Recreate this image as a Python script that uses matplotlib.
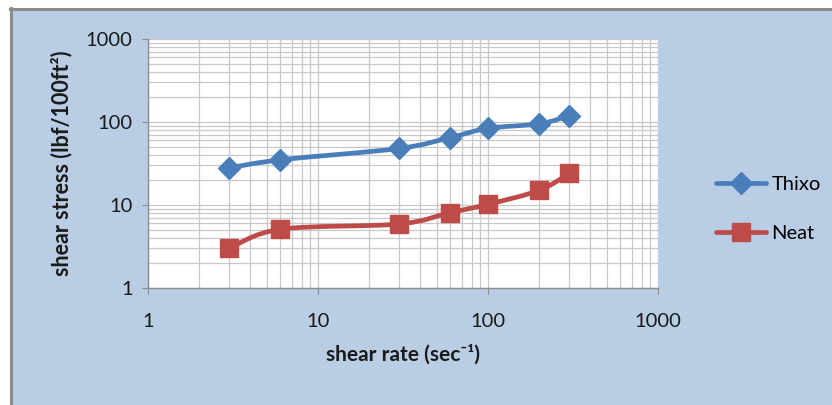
import numpy as np
import matplotlib
matplotlib.use("Agg")
import matplotlib.pyplot as plt
from matplotlib.path import Path
from matplotlib.patches import PathPatch, Rectangle
from matplotlib.lines import Line2D

# shear rate (1/s) and shear stress (lbf/100ft^2)
shear_rate = [3, 6, 30, 60, 100, 200, 300]
thixo = [28, 35, 48, 65, 84, 95, 119]
neat = [3, 5.1, 5.9, 8.1, 10.2, 15, 24]

series_names = ["Thixo", "Neat"]
x_ticks = [1, 10, 100, 1000]
y_ticks = [1, 10, 100, 1000]

BLUE = "#4A7EBB"
RED = "#BE4B48"
BG = "#B9CDE4"

plt.rcParams["font.family"] = ["Lato", "DejaVu Sans"]

fig = plt.figure(figsize=(8.32, 4.05), dpi=100)
fig.patch.set_facecolor("white")
# chart area background with a grey frame on the left and top
fig.patches.append(Rectangle((10 / 832, 0), 1, 1 - 8 / 405, transform=fig.transFigure,
                             facecolor=BG, edgecolor="none", zorder=-5))
fig.add_artist(Line2D([11 / 832, 11 / 832], [0, 1 - 8 / 405], transform=fig.transFigure,
                      color="#8C8C8C", lw=2.2, zorder=-4))
fig.add_artist(Line2D([10 / 832, 1], [1 - 9 / 405, 1 - 9 / 405], transform=fig.transFigure,
                      color="#8C8C8C", lw=2.2, zorder=-4))

ax = fig.add_axes([148 / 832, 1 - 288 / 405, 510 / 832, 249 / 405])
ax.set_facecolor("white")
ax.set_xscale("log")
ax.set_yscale("log")
ax.set_xlim(1, 1000)
ax.set_ylim(1, 1000)
ax.grid(True, which="both", color="#C8C8C8", lw=0.9)
ax.set_axisbelow(True)
for s in ["top", "right"]:
    ax.spines[s].set_visible(False)
for s in ["left", "bottom"]:
    ax.spines[s].set_color("#8C8C8C")
    ax.spines[s].set_linewidth(1.0)
ax.set_xticks(x_ticks)
ax.set_yticks(y_ticks)
ax.set_xticklabels([str(v) for v in x_ticks])
ax.set_yticklabels([str(v) for v in y_ticks])
ax.tick_params(which="major", length=4, color="#8C8C8C", labelsize=14.5, direction="out",
               labelcolor="#1A1A1A")
ax.tick_params(axis="y", pad=7)
ax.tick_params(axis="x", pad=14)
ax.tick_params(which="minor", length=0)


def smooth_path(xs, ys):
    # Catmull-Rom style Bezier through the points, built in log space
    lx = np.log10(xs)
    ly = np.log10(ys)
    n = len(lx)
    verts = [(lx[0], ly[0])]
    codes = [Path.MOVETO]
    t = 1 / 6
    for i in range(n - 1):
        p0 = (lx[max(i - 1, 0)], ly[max(i - 1, 0)])
        p1 = (lx[i], ly[i])
        p2 = (lx[i + 1], ly[i + 1])
        p3 = (lx[min(i + 2, n - 1)], ly[min(i + 2, n - 1)])
        c1 = (p1[0] + (p2[0] - p0[0]) * t, p1[1] + (p2[1] - p0[1]) * t)
        c2 = (p2[0] - (p3[0] - p1[0]) * t, p2[1] - (p3[1] - p1[1]) * t)
        verts += [c1, c2, p2]
        codes += [Path.CURVE4] * 3
    verts = [(10 ** a, 10 ** b) for a, b in verts]
    return Path(verts, codes)


for ys, color, marker, ms in [(thixo, BLUE, "D", 11.5), (neat, RED, "s", 13)]:
    ax.add_patch(PathPatch(smooth_path(shear_rate, ys), facecolor="none", edgecolor=color,
                           lw=3.4, capstyle="round", joinstyle="round", zorder=3))
    ax.plot(shear_rate, ys, linestyle="none", marker=marker, ms=ms, color=color,
            markeredgecolor=color, zorder=4)

handles = [Line2D([], [], color=BLUE, lw=3.4, marker="D", ms=11.5, solid_capstyle="round"),
           Line2D([], [], color=RED, lw=3.4, marker="s", ms=13, solid_capstyle="round")]
fig.legend(handles, series_names, loc="upper left", bbox_to_anchor=(716 / 832, 1 - 176 / 405),
           frameon=False, fontsize=14.5, handlelength=2.5, handletextpad=0.25,
           labelspacing=1.6, borderaxespad=0, borderpad=0)

ax.set_xlabel("shear rate (sec\u207b\u00b9)", fontsize=15, fontweight="bold", labelpad=10,
              color="#1A1A1A")
ax.set_ylabel("shear stress (lbf/100ft\u00b2)", fontsize=15.5, fontweight="bold", labelpad=10,
              color="#1A1A1A")

fig.savefig("out.png", dpi=100)
